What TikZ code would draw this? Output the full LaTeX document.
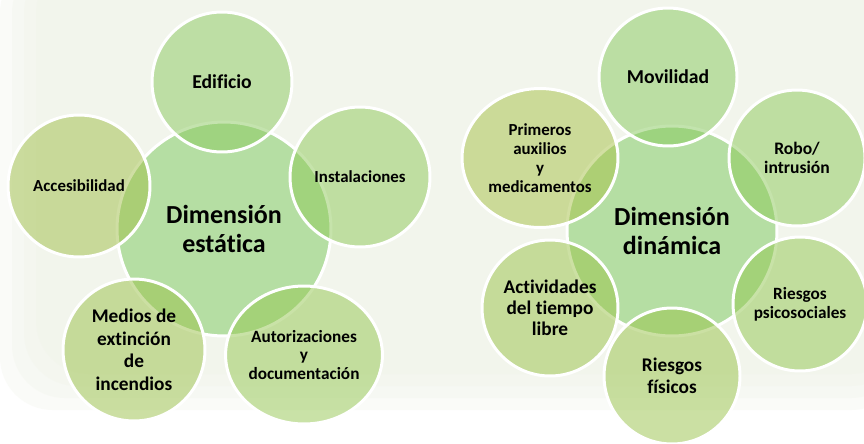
\documentclass[tikz,border=0pt]{standalone}
\usepackage{fontspec}
\setmainfont{Carlito}[Ligatures=NoCommon]
\usetikzlibrary{shapes.geometric}

\definecolor{panel}{RGB}{240,244,232}
\definecolor{coregreen}{RGB}{181,222,163}
\definecolor{edifgreen}{RGB}{138,201,94}
\definecolor{instgreen}{RGB}{142,201,88}
\definecolor{autogreen}{RGB}{148,199,80}
\definecolor{mediogreen}{RGB}{154,193,72}
\definecolor{accegreen}{RGB}{160,191,72}
\definecolor{movigreen}{RGB}{134,201,92}
\definecolor{robogreen}{RGB}{140,201,88}
\definecolor{psicogreen}{RGB}{146,199,80}
\definecolor{fisigreen}{RGB}{152,195,72}
\definecolor{actigreen}{RGB}{154,195,72}
\definecolor{primgreen}{RGB}{166,193,70}

\begin{document}
\begin{tikzpicture}[
  x=0.02cm, y=-0.02cm,
  every node/.style={align=center},
  core/.style={circle,draw=white,line width=1.7pt,fill=coregreen,inner sep=0pt,
    font=\fontsize{14.8}{16}\selectfont\bfseries},
  item/.style={ellipse,draw=white,line width=1.7pt,fill opacity=.5,draw opacity=1,
    text opacity=1,inner sep=0pt,minimum width=2.8cm,minimum height=2.8cm},
  small/.style={font=\fontsize{9.6}{10.8}\selectfont\bfseries},
  large/.style={font=\fontsize{11.2}{12.6}\selectfont\bfseries}]

  \useasboundingbox (0,0) rectangle (864,443);

  % Soft background panel
  \fill[white] (0,0) rectangle (864,443);
  \fill[panel,opacity=.3,rounded corners=30] (0,-40) rectangle (904,410);
  \fill[panel,opacity=.3,rounded corners=30] (12,-40) rectangle (904,398);
  \fill[panel,opacity=.3,rounded corners=30] (24,-40) rectangle (904,386);
  \fill[panel,opacity=.3,rounded corners=30] (36,-40) rectangle (904,374);

  % Static dimension
  \node[core,minimum size=4.28cm] (estatica) at (224,229) {Dimensión\\estática};
  \node[item,large,fill=edifgreen] (edificio) at (222,82) {Edificio};
  \node[item,small,fill=instgreen] (instalaciones) at (360,177) {Instalaciones};
  \node[item,small,fill=autogreen,minimum width=3.04cm,minimum height=2.76cm,
    font=\fontsize{9.8}{10.3}\selectfont\bfseries] (autorizaciones) at (304,355)
    {Autorizaciones\\y\\documentación};
  \node[item,fill=mediogreen,minimum size=2.84cm,
    font=\fontsize{11}{12.8}\selectfont\bfseries] (medios) at (134,350)
    {Medios de\\extinción\\de\\incendios};
  \node[item,small,fill=accegreen,minimum size=2.84cm] (accesibilidad) at (79,186) {Accesibilidad};

  % Dynamic dimension
  \node[core,minimum size=4.2cm] (dinamica) at (672,231) {Dimensión\\dinámica};
  \node[item,large,fill=movigreen,minimum size=2.76cm] (movilidad) at (668,77) {Movilidad};
  \node[item,fill=robogreen,minimum size=2.72cm,
    font=\fontsize{10}{10.9}\selectfont\bfseries] (robo) at (797,158) {Robo/\\intrusión};
  \node[item,fill=psicogreen,minimum size=2.68cm,
    font=\fontsize{9.8}{10.9}\selectfont\bfseries] (psicosociales) at (800,304)
    {Riesgos\\psicosociales};
  \node[item,fill=fisigreen,minimum size=2.72cm,
    font=\fontsize{11}{12.5}\selectfont\bfseries] (fisicos) at (672,376) {Riesgos\\físicos};
  \node[item,fill=actigreen,minimum size=2.72cm,
    font=\fontsize{11}{12}\selectfont\bfseries] (actividades) at (550,308)
    {Actividades\\del tiempo\\libre};
  \node[item,small,fill=primgreen,minimum width=3.12cm,minimum height=2.78cm] (primeros)
    at (540,158) {Primeros\\auxilios\\y\\medicamentos};
\end{tikzpicture}
\end{document}
